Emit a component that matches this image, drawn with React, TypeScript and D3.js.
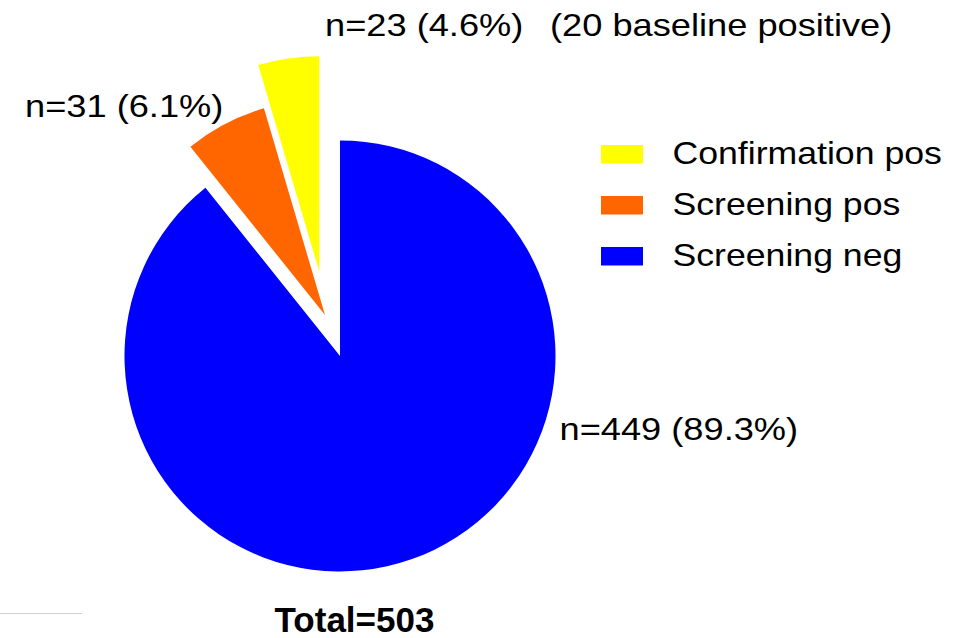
import React from "react";
import * as d3 from "d3";

const categories = ["Screening neg", "Screening pos", "Confirmation pos"];
const counts = [449, 31, 23];
const percentLabels = ["89.3%", "6.1%", "4.6%"];
const sliceColors = ["#0000ff", "#ff6600", "#ffff00"];
const legendOrder = ["Confirmation pos", "Screening pos", "Screening neg"];
const totalLabel = "Total=503";
const noteLabel = "(20 baseline positive)";

const W = 974;
const H = 638;
const CX = 340;
const CY = 356;
const R = 215.5;
// explode offsets (dx, dy) for each slice
const explode: [number, number][] = [
  [0, 0],
  [-15, -41],
  [-20.7, -84.3],
];
// label anchor positions (start x, baseline y)
const labelPos: [number, number][] = [
  [559.5, 439.5],
  [25, 117],
  [325, 36],
];
const FS = 31;
const SX = 1.15;
const LFS = 31.5;

export default function App() {
  const pie = d3
    .pie<number>()
    .sort(null)
    .value((d) => d)
    .startAngle(0)
    .endAngle(2 * Math.PI);
  const arcs = pie(counts);
  const arc = d3.arc<d3.PieArcDatum<number>>().innerRadius(0).outerRadius(R);
  const legendY = d3.scaleBand<string>().domain(legendOrder).range([138, 291]);
  const colorOf = d3.scaleOrdinal<string, string>().domain(categories).range(sliceColors);

  const txt = (x: number, y: number, s: string, fs: number, key?: string) => (
    <text
      key={key}
      transform={`translate(${x},${y}) scale(${SX},1)`}
      fontFamily="'Liberation Sans', Arial, sans-serif"
      fontSize={fs}
      fill="#000"
    >
      {s}
    </text>
  );

  return (
    <svg
      width={W}
      height={H}
      style={{ position: "absolute", left: 0, top: 0, background: "#fff" }}
    >
      <rect width={W} height={H} fill="#fff" />
      {arcs.map((a, i) => (
        <path
          key={i}
          d={arc(a) || ""}
          fill={sliceColors[i]}
          transform={`translate(${CX + explode[i][0]},${CY + explode[i][1]})`}
        />
      ))}
      {counts.map((c, i) =>
        txt(labelPos[i][0], labelPos[i][1], `n=${c} (${percentLabels[i]})`, LFS, "l" + i)
      )}
      {txt(550, 36, noteLabel, LFS, "note")}
      {legendOrder.map((name) => {
        const y = legendY(name)!;
        return (
          <g key={name}>
            <rect x={601} y={y + 7} width={42} height={18.5} fill={colorOf(name)} />
            {txt(672.5, y + 25.5, name, FS)}
          </g>
        );
      })}
      <line x1={0} x2={82} y1={613.5} y2={613.5} stroke="#d0d0d0" strokeWidth={1} />
      <text
        x={354.5}
        y={632}
        textAnchor="middle"
        fontFamily="'Liberation Sans', Arial, sans-serif"
        fontWeight="bold"
        fontSize={35}
        fill="#000"
      >
        {totalLabel}
      </text>
    </svg>
  );
}
